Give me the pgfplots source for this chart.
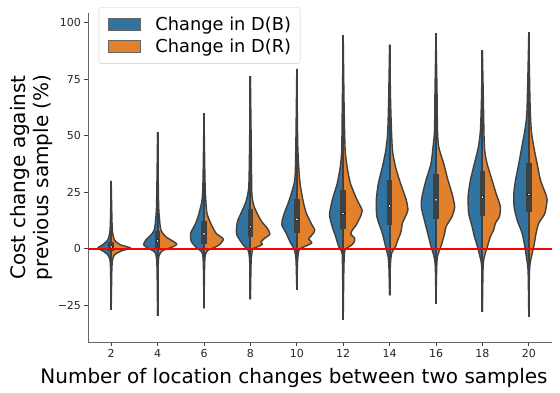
\documentclass[border=0pt]{standalone}
\usepackage{fontspec}
\setmainfont{DejaVu Sans}
\usepackage{pgfplots}
\usepackage{pgfplotstable}
\pgfplotsset{compat=1.18}
\definecolor{cb}{HTML}{3274A1}
\definecolor{co}{HTML}{E1812C}
\definecolor{vgray}{HTML}{404040}
% half-violin profiles: y value, half-width in px (1 category = 46.4 px)
\pgfplotstableread[row sep=\\]{y w\\ -27 0\\ -10 0.6\\ -5 1.2\\ -2.6 3.5\\ -0.8 9\\ 0.3 13.5\\ 1.8 8.5\\ 3.9 3.5\\ 6.9 1.5\\ 12 0.8\\ 30 0\\}\BA
\pgfplotstableread[row sep=\\]{y w\\ -27 0\\ -10 0.6\\ -5 1.3\\ -2.6 3.5\\ -0.8 11\\ 0.3 19.5\\ 1.8 9\\ 3.9 3.3\\ 6.9 1.5\\ 12 0.8\\ 30 0\\}\RA
\pgfplotstableread[row sep=\\]{y w\\ -29.7 0\\ -8 0.6\\ -3 1.5\\ -1.2 3.5\\ 0.3 10\\ 1.8 14\\ 3.9 11.7\\ 6.1 6.7\\ 8.3 3.3\\ 12.7 2\\ 20 1\\ 51.5 0\\}\BB
\pgfplotstableread[row sep=\\]{y w\\ -29.7 0\\ -8 0.6\\ -3 1.5\\ -0.8 5\\ 0.6 14\\ 2.0 19.3\\ 3.2 16\\ 5.4 8\\ 8.3 3.3\\ 12.7 2\\ 20 1\\ 51.5 0\\}\RB
\pgfplotstableread[row sep=\\]{y w\\ -26.3 0\\ -8 0.6\\ -3 1.2\\ -1.2 2.5\\ 0.3 7\\ 3.2 12.7\\ 6.9 13.3\\ 11.3 8.3\\ 15.6 5\\ 21.5 2\\ 30 1\\ 59.8 0\\}\BC
\pgfplotstableread[row sep=\\]{y w\\ -26.3 0\\ -8 0.6\\ -3 1.2\\ -0.8 3.5\\ 0.3 9\\ 1.8 15.5\\ 4.3 19.3\\ 6.9 12\\ 11.3 6.7\\ 15.6 3\\ 21.5 1.8\\ 30 1\\ 59.8 0\\}\RC
\pgfplotstableread[row sep=\\]{y w\\ -22.4 0\\ -6 0.7\\ -2 1.5\\ 0 3\\ 1 6\\ 3.5 10\\ 6 13.5\\ 8 14\\ 9.8 13.7\\ 12.4 12.7\\ 16.8 8.3\\ 21 4.3\\ 27 1.7\\ 40 1\\ 76.3 0\\}\BD
\pgfplotstableread[row sep=\\]{y w\\ -22.4 0\\ -6 0.7\\ -2 1.5\\ 0 2.5\\ 1 8\\ 2 12\\ 3 10.5\\ 4.5 14\\ 6.5 19.5\\ 9 17\\ 12.4 10.7\\ 18.3 4\\ 24 1.5\\ 40 1\\ 76.3 0\\}\RD
\pgfplotstableread[row sep=\\]{y w\\ -18 0\\ -6 0.7\\ -2 1.5\\ 0.6 3.5\\ 2.8 6.5\\ 7.2 11\\ 10.5 15\\ 12.3 14.7\\ 16 12.3\\ 21.8 7.3\\ 30.6 2\\ 45 1\\ 79.5 0\\}\BE
\pgfplotstableread[row sep=\\]{y w\\ -18 0\\ -6 0.7\\ -2 1.5\\ 0 3\\ 1 8\\ 2.6 15\\ 4.4 12\\ 6.5 16\\ 8.3 18\\ 10.7 15\\ 16 9.3\\ 21.8 6\\ 30 3\\ 45 1\\ 79.5 0\\}\RE
\pgfplotstableread[row sep=\\]{y w\\ -31.4 0\\ -8 0.7\\ -2.5 1\\ -1 1.8\\ 1 4.5\\ 5.3 7.5\\ 9.8 11\\ 14.2 13.5\\ 15.6 13.7\\ 21.5 11\\ 28.8 6\\ 36 3\\ 43.4 1.5\\ 60 1\\ 94.3 0\\}\BF
\pgfplotstableread[row sep=\\]{y w\\ -31.4 0\\ -8 0.7\\ -1 1.5\\ 0 2.5\\ 1.5 8\\ 3 11\\ 4.8 11.5\\ 6.5 7.5\\ 8.5 9.5\\ 10.5 13\\ 14 17\\ 17 19\\ 21.5 14\\ 28.8 7.3\\ 36 4\\ 43.4 2\\ 60 1\\ 94.3 0\\}\RF
\pgfplotstableread[row sep=\\]{y w\\ -20.6 0\\ -8 0.7\\ -3.5 1.5\\ 1 4\\ 6.9 7.3\\ 14.2 12.7\\ 21.5 13.3\\ 28.8 11.3\\ 36 7.3\\ 43 4\\ 50.7 2\\ 65 1\\ 90.2 0\\}\BG
\pgfplotstableread[row sep=\\]{y w\\ -20.6 0\\ -8 0.7\\ -2 2\\ 1 6\\ 4 8.3\\ 6.9 11\\ 9 12\\ 11.2 12.7\\ 14 15.5\\ 17 18.3\\ 21.5 16.7\\ 28.8 11\\ 36 6\\ 43 3\\ 50.7 2\\ 65 1\\ 90.2 0\\}\RG
\pgfplotstableread[row sep=\\]{y w\\ -24.3 0\\ -8 0.7\\ -3.4 2\\ 1 5\\ 6.9 8.3\\ 12.7 11.7\\ 18.6 14.7\\ 23 14\\ 30.3 10\\ 37.6 5\\ 44.9 3\\ 52.2 1.5\\ 70 1\\ 95.3 0\\}\BH
\pgfplotstableread[row sep=\\]{y w\\ -24.3 0\\ -8 0.7\\ -3.4 1.5\\ 0 4\\ 2.5 6\\ 6.9 8.7\\ 9.8 10\\ 14.2 16\\ 18.6 18.7\\ 24.4 16\\ 30.3 12\\ 37.6 7.7\\ 45 2.7\\ 52.2 1.5\\ 70 1\\ 95.3 0\\}\RH
\pgfplotstableread[row sep=\\]{y w\\ -27.8 0\\ -8 0.7\\ -3.4 2.5\\ 1 5\\ 5.4 8\\ 9.8 10.3\\ 15.6 13.7\\ 23 14.3\\ 30.3 12\\ 37.6 8\\ 45 4\\ 52.2 2\\ 65 1\\ 87.7 0\\}\BI
\pgfplotstableread[row sep=\\]{y w\\ -27.8 0\\ -8 0.7\\ -3.4 2\\ 1 5\\ 5.4 8\\ 8.3 11.3\\ 11.3 13\\ 14.2 17\\ 18.6 18\\ 24.4 13.7\\ 30.3 9.7\\ 37.6 4.7\\ 45 2\\ 65 1\\ 87.7 0\\}\RI
\pgfplotstableread[row sep=\\]{y w\\ -30.1 0\\ -10 0.7\\ -4.8 2\\ 1 4\\ 6.9 6.7\\ 12.7 11.7\\ 18.6 14.7\\ 24.4 15\\ 30.3 13.3\\ 37.6 10\\ 45 7\\ 52.2 4\\ 59.5 2\\ 75 1\\ 95.8 0\\}\BJ
\pgfplotstableread[row sep=\\]{y w\\ -30.1 0\\ -10 0.7\\ -4.8 2\\ 1 5\\ 6.9 7.3\\ 11.3 10\\ 15.6 16\\ 21.5 18.3\\ 24.4 16.7\\ 30.3 11.7\\ 37.6 8.3\\ 45 5\\ 52.2 2.5\\ 65 1.2\\ 95.8 0\\}\RJ
% center, min, max, q1, q3, median
\pgfplotstableread[row sep=\\]{c lo hi q1 q3 med\\
0 -27 30 -1.2 3.2 0.8\\
1 -29.7 51.5 0.4 7.9 3.5\\
2 -26.3 59.8 2.2 12.3 6.6\\
3 -22.4 76.3 5.0 17.4 9.8\\
4 -18 79.5 6.9 22.2 13\\
5 -31.4 94.3 8.8 25.9 15.6\\
6 -20.6 90.2 10.5 30.3 18.9\\
7 -24.3 95.3 13.2 32.9 21.6\\
8 -27.8 87.7 14.5 34.3 22.8\\
9 -30.1 95.8 16.4 38 24\\}\stats
\pgfplotsset{
  half/.style={draw=vgray, line width=1.4pt, line join=round, smooth, tension=0.4, forget plot},
  patchlegend/.style={legend image code/.code={\draw[##1, sharp corners, line width=0.6pt] (0pt,-6.2pt) rectangle (32pt,6.2pt);}},
}
\newcommand{\violin}[3]{%
  \addplot[half, fill=cb] table[x expr={#1-\thisrow{w}/46.4}, y=y]{#2};
  \addplot[half, fill=co] table[x expr={#1+\thisrow{w}/46.4}, y=y]{#3};
}
\newcommand{\lgf}{\fontsize{17.8}{21}\selectfont}
\begin{document}
\begin{tikzpicture}
\path[use as bounding box] (-88pt,-50pt) rectangle (472pt,342pt);
\begin{axis}[
  name=ax, at={(0,0)}, anchor=south west,
  scale only axis, width=464pt, height=329pt,
  xmin=-0.5, xmax=9.5, ymin=-41.2, ymax=104.2,
  axis x line*=bottom, axis y line*=left,
  axis line style={draw=black!60, line width=0.9pt},
  tick align=outside, major tick length=3.5pt,
  tick style={black!75, line width=0.8pt},
  xtick={0,1,2,3,4,5,6,7,8,9},
  xticklabels={2,4,6,8,10,12,14,16,18,20},
  ytick={-25,0,25,50,75,100},
  yticklabels={−25,0,25,50,75,100},
  ticklabel style={font=\fontsize{11}{13}\selectfont, text=black!85},
  xlabel={Number of location changes between two samples},
  xlabel style={font=\fontsize{20}{24}\selectfont, at={(axis description cs:0.444,-0.080)}, anchor=north, inner sep=0pt},
  ylabel={Cost change against\\previous sample (\%)},
  ylabel style={font=\fontsize{20}{23}\selectfont, align=center, at={(axis description cs:-0.075,0.5)}, anchor=south, inner sep=0pt},
  legend style={at={(axis description cs:0.023,1.0173)}, anchor=north west,
    draw=black!20, rounded corners=2pt, fill=white,
    font=\lgf, inner xsep=9pt, inner ysep=9.5pt,
    nodes={inner sep=0pt, font=\lgf}, row sep=7pt,
    /tikz/every odd column/.append style={column sep=15pt}},
  legend cell align=left,
  clip=false,
]
\addlegendimage{fill=cb, draw=vgray!80, patchlegend}
\addlegendentry{Change in D(B)}
\addlegendimage{fill=co, draw=vgray!80, patchlegend}
\addlegendentry{Change in D(R)}
\violin{0}{\BA}{\RA}
\violin{1}{\BB}{\RB}
\violin{2}{\BC}{\RC}
\violin{3}{\BD}{\RD}
\violin{4}{\BE}{\RE}
\violin{5}{\BF}{\RF}
\violin{6}{\BG}{\RG}
\violin{7}{\BH}{\RH}
\violin{8}{\BI}{\RI}
\violin{9}{\BJ}{\RJ}
% whisker lines, boxes, medians
\addplot[forget plot, draw=none, mark=none,
  error bars/.cd, y dir=plus, y explicit, error bar style={line width=2pt, vgray}, error mark=none]
  table[x=c, y=lo, y error expr={\thisrow{hi}-\thisrow{lo}}]{\stats};
\addplot[forget plot, draw=none, mark=none,
  error bars/.cd, y dir=plus, y explicit, error bar style={line width=5.5pt, vgray}, error mark=none]
  table[x=c, y=q1, y error expr={\thisrow{q3}-\thisrow{q1}}]{\stats};
\addplot[forget plot, only marks, mark=*, mark size=1.5pt, mark options={fill=white, draw=none}]
  table[x=c, y=med]{\stats};
\addplot[forget plot, red, line width=1.5pt] coordinates {(-0.5,0) (9.5,0)};
\end{axis}
\end{tikzpicture}
\end{document}
